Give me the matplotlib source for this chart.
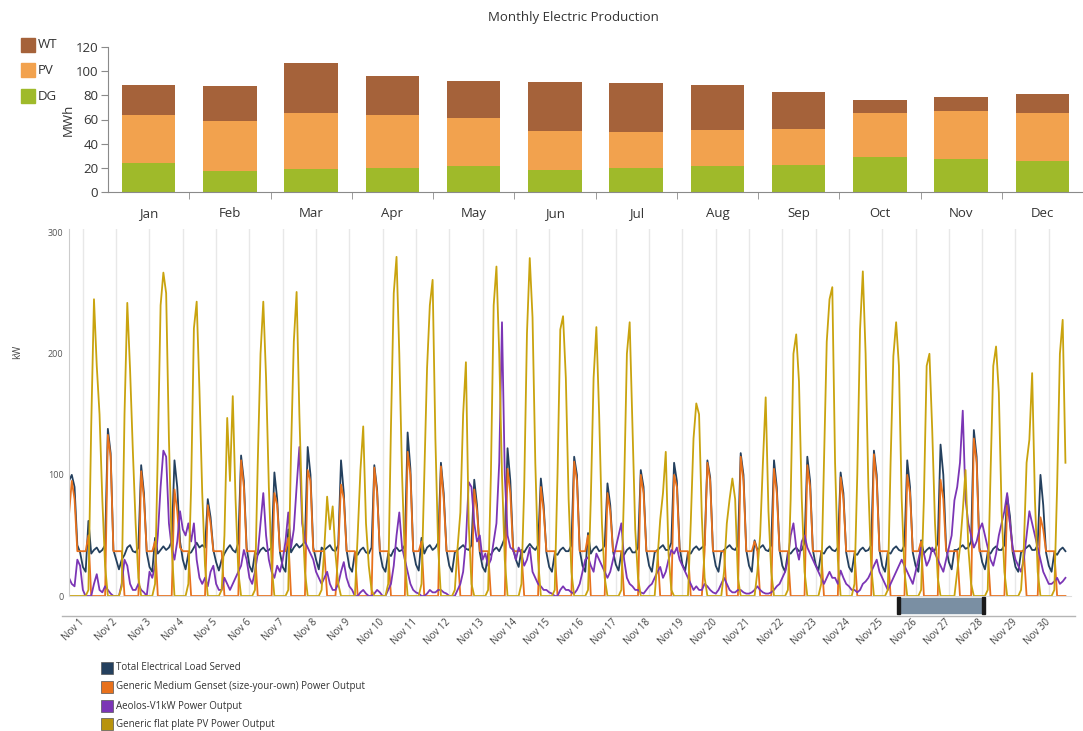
import numpy as np
import matplotlib.pyplot as plt
from matplotlib.patches import Rectangle
from matplotlib.lines import Line2D

plt.rcParams['font.family'] = ['Open Sans', 'DejaVu Sans']

# Monthly production (MWh)
months = ['Jan', 'Feb', 'Mar', 'Apr', 'May', 'Jun', 'Jul', 'Aug', 'Sep', 'Oct', 'Nov', 'Dec']
dg_mwh = [24.2, 17.1, 19.3, 20.1, 21.7, 18.2, 20.1, 21.7, 22.0, 29.2, 27.0, 25.6]
pv_mwh = [39.4, 41.5, 46.2, 43.5, 39.7, 32.2, 29.4, 29.5, 30.3, 36.0, 40.4, 39.9]
wt_mwh = [25.3, 28.9, 41.0, 32.7, 30.5, 40.7, 40.5, 37.4, 30.3, 10.8, 11.3, 15.7]

# November time series, one row per day, 2-hour steps (kW)
load_rows = [
    [95, 100, 90, 42, 36, 24, 20, 62, 35, 38, 40, 36],
    [38, 42, 138, 118, 38, 30, 22, 30, 34, 40, 42, 37],
    [36, 40, 108, 85, 36, 24, 20, 48, 35, 38, 41, 38],
    [40, 45, 112, 90, 45, 30, 22, 35, 36, 40, 44, 40],
    [42, 40, 80, 65, 38, 28, 21, 30, 35, 39, 42, 38],
    [36, 44, 116, 95, 40, 25, 20, 36, 34, 38, 40, 37],
    [38, 40, 102, 80, 36, 24, 20, 55, 36, 40, 43, 40],
    [42, 45, 123, 100, 40, 30, 22, 40, 38, 40, 42, 38],
    [37, 42, 112, 85, 38, 24, 20, 36, 34, 38, 40, 36],
    [35, 40, 108, 88, 36, 24, 20, 35, 33, 38, 40, 37],
    [38, 42, 135, 105, 38, 26, 21, 48, 35, 40, 42, 38],
    [40, 44, 110, 85, 38, 25, 20, 36, 38, 40, 42, 39],
    [38, 42, 96, 75, 36, 24, 20, 35, 34, 38, 40, 37],
    [42, 48, 122, 95, 40, 30, 24, 38, 36, 40, 43, 40],
    [38, 42, 97, 75, 36, 24, 20, 35, 34, 38, 40, 37],
    [37, 42, 115, 100, 38, 25, 20, 52, 35, 39, 41, 37],
    [38, 42, 93, 75, 37, 26, 21, 36, 34, 38, 40, 36],
    [36, 40, 104, 90, 38, 25, 20, 36, 38, 40, 42, 38],
    [38, 44, 110, 95, 40, 26, 21, 36, 35, 39, 41, 38],
    [40, 42, 112, 98, 38, 25, 20, 36, 38, 40, 42, 39],
    [38, 42, 118, 100, 38, 25, 20, 46, 38, 40, 42, 38],
    [37, 42, 112, 90, 38, 25, 20, 36, 35, 38, 40, 37],
    [38, 44, 115, 95, 38, 26, 21, 36, 35, 39, 41, 38],
    [37, 40, 102, 85, 36, 24, 20, 35, 34, 38, 40, 37],
    [38, 42, 120, 100, 38, 25, 20, 36, 35, 39, 41, 38],
    [37, 42, 112, 90, 36, 25, 20, 46, 35, 38, 40, 37],
    [38, 44, 125, 100, 40, 28, 22, 38, 38, 40, 42, 39],
    [40, 45, 137, 115, 40, 28, 22, 36, 35, 39, 41, 38],
    [38, 42, 83, 66, 36, 24, 20, 36, 38, 40, 42, 38],
    [38, 42, 100, 75, 36, 25, 20, 36, 34, 38, 40, 37],
]
genset_rows = [
    [67, 95, 80, 37, 37, 37, 37, 50, 0, 0, 0, 0],
    [0, 0, 133, 115, 37, 37, 37, 37, 0, 0, 0, 0],
    [0, 0, 103, 80, 37, 37, 37, 45, 0, 0, 0, 0],
    [0, 0, 88, 70, 40, 37, 37, 37, 0, 0, 0, 0],
    [0, 0, 75, 60, 37, 37, 37, 37, 0, 0, 0, 0],
    [0, 0, 112, 90, 37, 37, 37, 37, 0, 0, 0, 0],
    [0, 0, 85, 75, 37, 37, 37, 48, 0, 0, 0, 0],
    [0, 0, 104, 95, 37, 37, 37, 37, 37, 0, 0, 0],
    [0, 37, 92, 80, 37, 37, 37, 37, 0, 0, 0, 0],
    [0, 0, 106, 85, 37, 37, 37, 37, 0, 0, 0, 0],
    [0, 0, 119, 100, 37, 37, 37, 45, 0, 0, 0, 0],
    [0, 0, 107, 80, 37, 37, 37, 37, 37, 0, 0, 0],
    [0, 0, 88, 70, 37, 37, 37, 37, 0, 0, 0, 0],
    [0, 0, 105, 85, 37, 37, 37, 37, 0, 0, 0, 0],
    [0, 0, 90, 70, 37, 37, 37, 37, 0, 0, 0, 0],
    [0, 0, 111, 95, 37, 37, 37, 50, 0, 0, 0, 0],
    [0, 0, 85, 70, 37, 37, 37, 37, 0, 0, 0, 0],
    [0, 0, 100, 85, 37, 37, 37, 37, 37, 0, 0, 0],
    [0, 0, 100, 90, 37, 37, 37, 37, 0, 0, 0, 0],
    [0, 37, 110, 95, 37, 37, 37, 37, 37, 0, 0, 0],
    [0, 0, 115, 95, 37, 37, 37, 45, 37, 0, 0, 0],
    [0, 0, 105, 85, 37, 37, 37, 37, 0, 0, 0, 0],
    [0, 0, 108, 90, 37, 37, 37, 37, 0, 0, 0, 0],
    [0, 0, 98, 80, 37, 37, 37, 37, 0, 0, 0, 0],
    [0, 0, 117, 95, 37, 37, 37, 37, 0, 0, 0, 0],
    [0, 0, 100, 85, 37, 37, 37, 45, 0, 0, 0, 0],
    [0, 0, 96, 80, 37, 37, 37, 37, 37, 0, 0, 0],
    [0, 0, 130, 110, 37, 37, 37, 37, 0, 0, 0, 0],
    [0, 0, 75, 60, 37, 37, 37, 37, 37, 0, 0, 0],
    [0, 0, 65, 55, 37, 37, 37, 37, 0, 0, 0, 0],
]
wind_rows = [
    [15, 10, 8, 30, 25, 5, 0, 0, 0, 10, 18, 5],
    [3, 8, 5, 2, 0, 0, 0, 10, 30, 25, 10, 5],
    [5, 10, 5, 3, 0, 20, 15, 25, 50, 90, 120, 115],
    [60, 40, 30, 45, 70, 55, 50, 60, 45, 60, 30, 15],
    [10, 15, 8, 20, 25, 10, 5, 5, 15, 10, 5, 10],
    [15, 20, 25, 38, 30, 15, 10, 20, 35, 60, 85, 50],
    [30, 20, 15, 25, 20, 30, 45, 69, 40, 55, 90, 123],
    [60, 45, 40, 35, 30, 20, 15, 10, 15, 20, 10, 5],
    [5, 10, 20, 28, 15, 8, 5, 0, 0, 3, 5, 2],
    [0, 0, 2, 5, 3, 0, 0, 5, 10, 25, 50, 69],
    [40, 30, 20, 10, 5, 3, 2, 0, 0, 2, 5, 3],
    [3, 5, 5, 3, 2, 0, 0, 0, 5, 10, 20, 45],
    [94, 90, 60, 45, 50, 30, 35, 25, 30, 45, 60, 110],
    [226, 100, 50, 40, 38, 30, 40, 35, 25, 30, 40, 20],
    [15, 10, 8, 5, 5, 3, 2, 0, 0, 5, 8, 5],
    [5, 3, 2, 5, 10, 20, 30, 32, 25, 20, 35, 30],
    [25, 20, 15, 20, 30, 40, 50, 60, 30, 15, 10, 8],
    [5, 5, 3, 2, 5, 8, 10, 15, 20, 24, 15, 20],
    [30, 38, 35, 40, 30, 25, 20, 15, 10, 5, 8, 5],
    [5, 10, 8, 5, 3, 2, 5, 10, 15, 10, 5, 3],
    [3, 5, 5, 3, 2, 2, 3, 5, 8, 5, 3, 2],
    [2, 3, 5, 8, 10, 15, 20, 30, 50, 60, 40, 30],
    [45, 50, 40, 35, 30, 25, 20, 15, 10, 15, 20, 15],
    [15, 10, 21, 15, 10, 8, 5, 5, 3, 5, 10, 12],
    [15, 20, 25, 30, 20, 15, 10, 5, 10, 15, 20, 25],
    [30, 25, 20, 15, 10, 20, 30, 40, 35, 25, 30, 40],
    [35, 30, 25, 20, 30, 40, 50, 79, 90, 110, 153, 80],
    [60, 50, 40, 45, 55, 60, 50, 40, 30, 25, 35, 50],
    [60, 70, 85, 60, 40, 30, 25, 20, 30, 50, 70, 60],
    [50, 40, 30, 20, 15, 10, 10, 12, 15, 10, 12, 15],
]
pv_rows = [
    [0, 0, 0, 0, 0, 0, 0, 5, 140, 245, 190, 150],
    [80, 25, 0, 0, 0, 0, 0, 8, 150, 242, 187, 120],
    [60, 15, 0, 0, 0, 0, 0, 10, 120, 240, 267, 250],
    [130, 40, 0, 0, 0, 0, 0, 10, 90, 221, 243, 170],
    [85, 25, 0, 0, 0, 0, 0, 5, 50, 147, 95, 165],
    [80, 20, 0, 0, 0, 0, 0, 5, 110, 200, 243, 180],
    [90, 25, 0, 0, 0, 0, 0, 5, 120, 210, 251, 150],
    [70, 20, 0, 0, 0, 0, 0, 5, 40, 82, 55, 74],
    [35, 10, 0, 0, 0, 0, 0, 0, 50, 104, 140, 60],
    [25, 5, 0, 0, 0, 0, 0, 10, 140, 250, 280, 200],
    [100, 30, 0, 0, 0, 0, 0, 10, 100, 188, 240, 261],
    [130, 40, 0, 0, 0, 0, 0, 5, 40, 69, 150, 193],
    [60, 10, 0, 0, 0, 0, 0, 5, 100, 240, 272, 200],
    [100, 30, 0, 0, 0, 0, 0, 10, 90, 217, 279, 230],
    [110, 30, 0, 0, 0, 0, 0, 5, 100, 220, 231, 180],
    [80, 20, 0, 0, 0, 0, 0, 5, 80, 180, 222, 150],
    [60, 15, 0, 0, 0, 0, 0, 5, 90, 200, 226, 140],
    [55, 15, 0, 0, 0, 0, 0, 0, 30, 63, 85, 119],
    [35, 5, 0, 0, 0, 0, 0, 0, 60, 130, 159, 150],
    [65, 15, 0, 0, 0, 0, 0, 0, 20, 60, 80, 97],
    [80, 15, 0, 0, 0, 0, 0, 0, 20, 50, 110, 164],
    [70, 20, 0, 0, 0, 0, 0, 5, 80, 200, 216, 177],
    [80, 20, 0, 0, 0, 0, 0, 10, 110, 210, 245, 255],
    [110, 30, 0, 0, 0, 0, 0, 10, 100, 220, 268, 200],
    [90, 25, 0, 0, 0, 0, 0, 5, 110, 198, 226, 190],
    [80, 20, 0, 0, 0, 0, 0, 5, 80, 190, 200, 137],
    [60, 15, 0, 0, 0, 0, 0, 0, 20, 40, 70, 104],
    [40, 10, 0, 0, 0, 0, 0, 5, 100, 190, 206, 168],
    [70, 20, 0, 0, 0, 0, 0, 5, 40, 110, 129, 184],
    [80, 20, 0, 0, 0, 0, 0, 5, 90, 200, 228, 110],
]
day_labels = ['Nov %d' % d for d in range(1, 31)]

load_kw = np.array(load_rows).ravel()
genset_kw = np.array(genset_rows).ravel()
wind_kw = np.array(wind_rows).ravel()
pv_kw = np.array(pv_rows).ravel()
hours = np.arange(len(load_kw)) * 2
day_ticks = 10 + 24 * np.arange(30)

WT_C, PV_C, DG_C = '#a5623a', '#f2a24e', '#9fba2a'
LOAD_C, GEN_C, WIND_C, SOLAR_C = '#24405e', '#e8711c', '#7b35b5', '#c9a30e'
W, H = 1083, 731

fig = plt.figure(figsize=(W / 100, H / 100), dpi=100)

# top: monthly stacked bars
ax1 = fig.add_axes([108 / W, 1 - 192 / H, (W - 108) / W, 145 / H])
x = np.arange(len(months))
dg = np.array(dg_mwh)
pv = np.array(pv_mwh)
wt = np.array(wt_mwh)
ax1.bar(x, dg, 0.66, color=DG_C)
ax1.bar(x, pv, 0.66, bottom=dg, color=PV_C)
ax1.bar(x, wt, 0.66, bottom=dg + pv, color=WT_C)
ax1.set_xlim(-0.5, 11.5)
ax1.set_ylim(0, 120)
ax1.set_yticks(range(0, 121, 20))
ax1.set_xticks(x)
ax1.set_xticklabels(months)
ax1.set_xticks(x[:-1] + 0.5, minor=True)
for s in ['top', 'right']:
    ax1.spines[s].set_visible(False)
for s in ['left', 'bottom']:
    ax1.spines[s].set_color('#8a8a8a')
ax1.tick_params(axis='y', length=5, color='#8a8a8a', labelsize=9.5, labelcolor='#333333', pad=2)
ax1.tick_params(axis='x', which='major', length=0, labelsize=9.5, labelcolor='#333333', pad=11)
ax1.tick_params(axis='x', which='minor', length=5, color='#8a8a8a')

fig.text(573 / W, 1 - 18 / H, 'Monthly Electric Production', ha='center', va='center',
         fontsize=9.5, color='#333333')
fig.text(68 / W, 1 - 120 / H, 'MWh', rotation=90, ha='center', va='center',
         fontsize=9.5, color='#333333')

for name, color, yc in [('WT', WT_C, 45), ('PV', PV_C, 70), ('DG', DG_C, 96)]:
    fig.add_artist(Rectangle((21 / W, 1 - (yc + 7) / H), 14 / W, 14 / H,
                             transform=fig.transFigure, color=color))
    fig.text(38 / W, 1 - yc / H, name, ha='left', va='center', fontsize=9.5, color='#333333')

# bottom: hourly power
ax2 = fig.add_axes([69 / W, 1 - 596 / H, 1002 / W, 367 / H])
ax2.plot(hours, load_kw, color=LOAD_C, lw=1.3)
ax2.plot(hours, genset_kw, color=GEN_C, lw=1.3)
ax2.plot(hours, wind_kw, color=WIND_C, lw=1.3)
ax2.plot(hours, pv_kw, color=SOLAR_C, lw=1.3)
ax2.set_xlim(0, 722)
ax2.set_ylim(0, 303)
ax2.set_yticks([0, 100, 200, 300])
ax2.set_xticks(day_ticks)
ax2.set_xticklabels(day_labels, rotation=45, ha='right', va='center', rotation_mode='anchor')
ax2.grid(axis='x', color='#e8e8e8', lw=1)
ax2.set_axisbelow(True)
for s in ['top', 'right']:
    ax2.spines[s].set_visible(False)
ax2.spines['left'].set_color('#cccccc')
ax2.spines['bottom'].set_color('#dddddd')
ax2.tick_params(axis='y', length=0, labelsize=6.5, labelcolor='#555555', pad=4)
ax2.tick_params(axis='x', length=0, labelsize=7, labelcolor='#444444', pad=18)
fig.text(18 / W, 1 - 352 / H, 'kW', rotation=90, ha='center', va='center',
         fontsize=7, color='#444444')

# range selector under the time axis
fig.add_artist(Line2D([62 / W, 1075 / W], [1 - 616 / H, 1 - 616 / H],
                      transform=fig.transFigure, color='#b5b5b5', lw=1))
fig.add_artist(Rectangle((898 / W, 1 - 613 / H), 86 / W, 15 / H,
                         transform=fig.transFigure, color='#7a8fa3'))
for xe in [897, 982]:
    fig.add_artist(Rectangle((xe / W, 1 - 614 / H), 3 / W, 17 / H,
                             transform=fig.transFigure, color='#1a1a1a'))

series = [('Total Electrical Load Served', LOAD_C, 668),
          ('Generic Medium Genset (size-your-own) Power Output', GEN_C, 687),
          ('Aeolos-V1kW Power Output', WIND_C, 706),
          ('Generic flat plate PV Power Output', '#b8930c', 724)]
for name, color, yc in series:
    fig.add_artist(Rectangle((101 / W, 1 - (yc + 6) / H), 12 / W, 12 / H,
                             transform=fig.transFigure, facecolor=color,
                             edgecolor='#555555', lw=0.5))
    fig.text(116 / W, 1 - yc / H, name, ha='left', va='center', fontsize=7, color='#333333')

fig.savefig('out.png', dpi=100)
